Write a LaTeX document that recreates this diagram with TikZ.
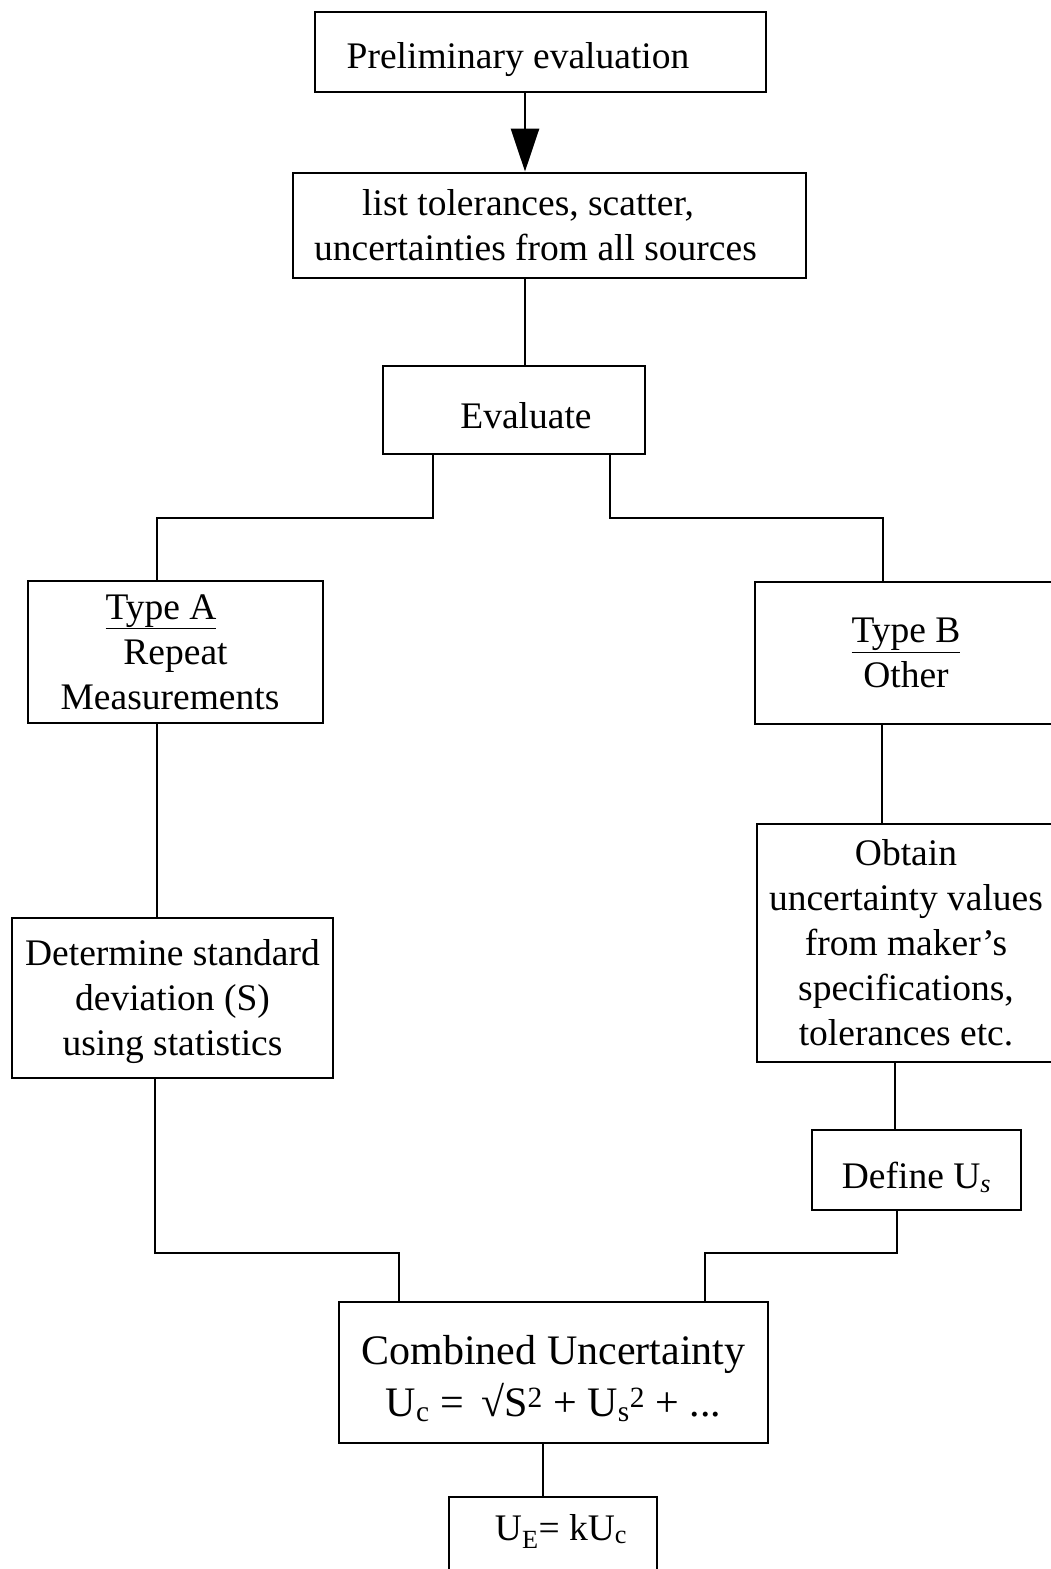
\documentclass[tikz,border=0pt]{standalone}
\usepackage{fontspec}
\setmainfont{Liberation Serif}
\usetikzlibrary{arrows.meta}
\newcommand\topstrut[1]{\rule{0pt}{#1}}
\begin{document}
\begin{tikzpicture}[x=1pt,y=-1pt,
  box/.style={draw,line width=2.9pt,inner sep=0pt,align=center,
    font=\fontsize{37.5}{45}\selectfont},
  conn/.style={line width=2.9pt},
  arr/.style={line width=2.9pt,-{Triangle[length=43pt,width=28pt]}}]
\useasboundingbox (0,0) rectangle (1051,1569);
\node[box,minimum width=451,minimum height=80] (pre) at (540.5,52)
  {\topstrut{42pt}Preliminary evaluation\hspace*{45pt}};
\node[box,minimum width=513,minimum height=105] (list) at (549.5,225.5)
  {list tolerances, scatter,\hspace*{43pt}\\uncertainties from all sources\hspace*{28pt}};
\node[box,minimum width=262,minimum height=88] (eval) at (514,410)
  {\topstrut{38pt}\hspace*{24pt}Evaluate};
\node[box,minimum width=295,minimum height=142] (typeA) at (175.5,652)
  {\underline{Type A}\hspace*{29pt}\\Repeat\hspace*{31pt}\\Measurements\hspace*{11pt}};
\node[box,minimum width=302,minimum height=142] (typeB) at (906,653)
  {\underline{Type B}\\Other};
\node[box,minimum width=321,minimum height=160] (det) at (172.5,998)
  {\topstrut{33pt}Determine standard\\deviation (S)\\using statistics};
\node[box,minimum width=298,minimum height=238] (obt) at (906,943)
  {Obtain\\uncertainty values\\from maker’s\\specifications,\\tolerances etc.};
\node[box,minimum width=209,minimum height=80] (def) at (916.5,1170)
  {\topstrut{42pt}Define U\textsubscript{\itshape s}};
\node[box,minimum width=429,minimum height=141,
  font=\fontsize{42}{52}\selectfont] (comb) at (553.5,1372.5)
  {\topstrut{41pt}Combined Uncertainty\\U\textsubscript{c} = \,√S\textsuperscript{2} + U\textsubscript{s}\textsuperscript{2} + ...};
\node[box,minimum width=208,minimum height=86,text height=0pt,text depth=0pt] (ue) at (553,1540)
  {\hspace*{16pt}U\textsubscript{E}= kU\textsubscript{c}};
\draw[arr] (pre.south -| 525,0) -- (list.north -| 525,0);
\draw[conn] (list.south -| 525,0) -- (eval.north -| 525,0);
\draw[conn] (eval.south -| 433,0) -- (433,518) -| (typeA.north -| 157,0);
\draw[conn] (eval.south -| 610,0) -- (610,518) -| (typeB.north -| 883,0);
\draw[conn] (typeA.south -| 157,0) -- (det.north -| 157,0);
\draw[conn] (typeB.south -| 882,0) -- (obt.north -| 882,0);
\draw[conn] (obt.south -| 895,0) -- (def.north -| 895,0);
\draw[conn] (det.south -| 155,0) -- (155,1253) -| (comb.north -| 399,0);
\draw[conn] (def.south -| 897,0) -- (897,1253) -| (comb.north -| 705,0);
\draw[conn] (comb.south -| 543,0) -- (ue.north -| 543,0);
\end{tikzpicture}
\end{document}
